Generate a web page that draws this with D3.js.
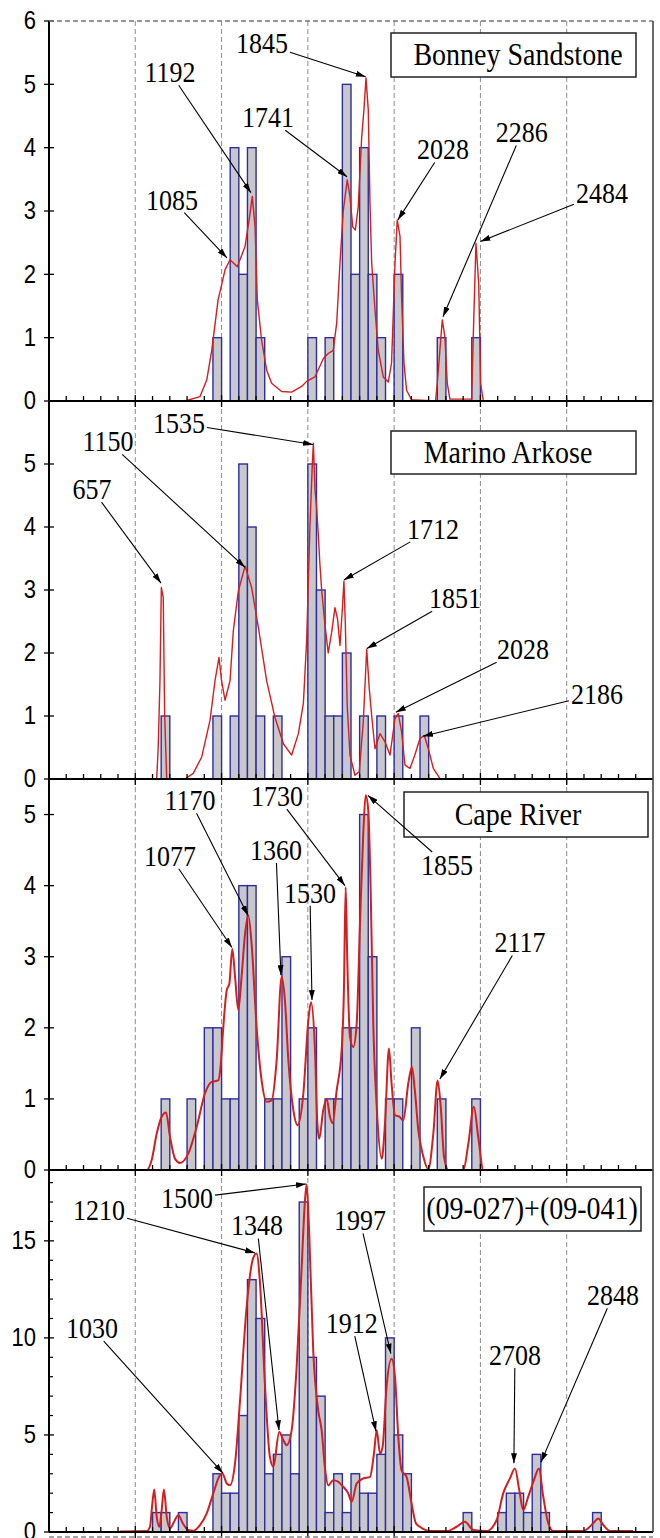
<!DOCTYPE html>
<html>
<head>
<meta charset="utf-8">
<script src="https://cdn.jsdelivr.net/npm/d3@7/dist/d3.min.js"></script>
<style>
body { margin: 0; background: #fff; }
</style>
</head>
<body>
<div class="chart"></div>
<script>
/* ---------------------------------------------------- +/
   Detrital zircon age spectra, four stacked panels
/+ ---------------------------------------------------- */

// histogram bins are 50 Ma wide, listed by their start age
var binWidth = 50;

// Bonney Sandstone
var bonneyBins   = [950, 1050, 1100, 1150, 1200, 1500, 1600, 1700, 1750, 1800, 1850, 1900, 2000, 2250, 2450];
var bonneyCounts = [1, 4, 2, 4, 1, 1, 1, 5, 2, 4, 2, 1, 2, 1, 1];
var bonneyCurveAge = [788, 875, 914, 943, 980, 1000, 1020, 1049, 1091, 1136, 1165, 1178, 1194, 1207, 1232, 1261, 1290, 1348, 1406, 1464, 1493, 1541, 1590, 1618, 1647, 1667, 1686, 1705, 1728, 1744, 1760, 1775, 1792, 1812, 1825, 1837, 1850, 1860, 1870, 1889, 1908, 1937, 1966, 1985, 2005, 2018, 2034, 2043, 2057, 2072, 2101, 2240, 2250, 2265, 2279, 2294, 2308, 2323, 2449, 2459, 2474, 2490, 2501, 2517, 2594];
var bonneyCurveP   = [0, 0.07, 0.33, 0.8, 1.6, 1.83, 2.07, 2.23, 2.12, 2.44, 2.96, 3.23, 2.75, 1.6, 0.96, 0.49, 0.28, 0.15, 0.14, 0.23, 0.31, 0.38, 0.67, 0.75, 0.8, 1.23, 2.17, 3.0, 3.49, 3.23, 2.75, 2.7, 3.07, 4.17, 4.6, 5.1, 4.6, 3.12, 2.17, 1.44, 0.8, 0.38, 0.3, 0.6, 2.17, 2.86, 2.6, 1.65, 0.6, 0.17, 0.02, 0, 0.28, 0.8, 1.28, 1.01, 0.28, 0.03, 0.03, 1.07, 2.49, 1.86, 0.28, 0, 0];
// [label, peak age, peak density, label age, label density]
var bonneyPeaks = [
    ["1845", 1835, 5.12, 1234, 5.65],
    ["1192", 1170, 3.29, 701, 5.19],
    ["1741", 1727, 3.54, 1269, 4.48],
    ["1085", 1031, 2.26, 713, 3.18],
    ["2028", 2022, 2.86, 2283, 3.97],
    ["2286", 2283, 1.33, 2740, 4.24],
    ["2484", 2500, 2.52, 3204, 3.28]
];

// Marino Arkose
var marinoBins   = [650, 950, 1050, 1100, 1150, 1200, 1300, 1500, 1550, 1600, 1650, 1700, 1800, 1900, 2000, 2150];
var marinoCounts = [1, 1, 1, 5, 4, 1, 1, 5, 3, 1, 1, 2, 1, 1, 1, 1];
var marinoCurveAge = [624, 633, 643, 651, 662, 670, 682, 788, 836, 885, 933, 962, 985, 1000, 1020, 1049, 1068, 1097, 1136, 1174, 1213, 1261, 1309, 1358, 1406, 1445, 1474, 1493, 1512, 1526, 1532, 1541, 1551, 1560, 1570, 1580, 1599, 1618, 1638, 1657, 1672, 1686, 1701, 1709, 1717, 1728, 1744, 1773, 1798, 1821, 1841, 1856, 1870, 1889, 1918, 1947, 1976, 2005, 2024, 2043, 2063, 2092, 2120, 2149, 2175, 2198, 2227, 2265, 2300];
var marinoCurveP   = [0, 0.51, 1.56, 3.04, 2.88, 1.04, 0, 0, 0.09, 0.35, 0.93, 1.56, 1.93, 1.56, 1.25, 1.56, 2.35, 2.98, 3.38, 3.04, 2.41, 1.56, 0.98, 0.56, 0.38, 0.72, 1.2, 2.2, 4.0, 5.01, 5.33, 4.6, 4.3, 3.9, 3.4, 3.0, 2.45, 2.0, 2.33, 2.72, 2.54, 2.12, 2.75, 3.14, 2.48, 1.17, 0.38, 0.06, 0.12, 0.9, 2.06, 1.43, 1.0, 0.48, 0.72, 0.59, 0.38, 0.96, 1.04, 0.75, 0.22, 0.17, 0.38, 0.64, 0.69, 0.48, 0.17, 0.01, 0];
var marinoPeaks = [
    ["1535", 1530, 5.31, 753, 5.65],
    ["1150", 1136, 3.36, 342, 5.36],
    ["657", 649, 3.11, 249, 4.6],
    ["1712", 1709, 3.16, 2225, 3.97],
    ["1851", 1842, 2.07, 2352, 2.87],
    ["2028", 2010, 1.06, 2746, 2.06],
    ["2186", 2167, 0.68, 3175, 1.35]
];

// Cape River
var capeBins   = [650, 800, 900, 950, 1000, 1050, 1100, 1150, 1250, 1300, 1350, 1450, 1500, 1600, 1650, 1700, 1750, 1800, 1850, 1950, 2000, 2100, 2250, 2450];
var capeCounts = [1, 1, 2, 2, 1, 1, 4, 4, 1, 1, 3, 1, 2, 1, 1, 2, 2, 5, 3, 1, 1, 2, 1, 1];
var capeCurveAge = [0, 566, 595, 624, 653, 678, 701, 730, 759, 807, 856, 904, 943, 981, 994, 1010, 1030, 1045, 1062, 1078, 1097, 1116, 1136, 1155, 1174, 1203, 1232, 1261, 1290, 1319, 1348, 1367, 1387, 1416, 1441, 1474, 1503, 1518, 1541, 1555, 1566, 1589, 1609, 1628, 1643, 1667, 1696, 1709, 1719, 1728, 1744, 1763, 1783, 1802, 1821, 1835, 1850, 1864, 1879, 1899, 1928, 1947, 1970, 1985, 2005, 2030, 2053, 2082, 2103, 2120, 2140, 2169, 2198, 2227, 2252, 2270, 2289, 2314, 2401, 2430, 2462, 2487, 2517, 2980];
var capeCurveP   = [0, 0, 0.14, 0.51, 0.75, 0.81, 0.47, 0.16, 0.1, 0.23, 0.61, 1.08, 1.24, 1.26, 1.45, 2.01, 2.53, 2.62, 3.11, 2.72, 2.25, 2.72, 3.32, 3.58, 3.18, 2.01, 1.26, 0.96, 0.98, 1.54, 2.72, 2.39, 1.54, 0.84, 0.63, 1.08, 2.11, 2.36, 1.7, 0.66, 0.44, 0.84, 1.0, 0.75, 0.66, 1.12, 1.69, 2.53, 3.98, 3.0, 1.87, 1.73, 2.06, 3.46, 4.73, 5.27, 5.06, 3.93, 2.06, 0.89, 0.16, 0.66, 1.71, 1.22, 0.77, 0.75, 0.7, 1.22, 1.45, 1.12, 0.56, 0.19, 0.01, 0.51, 1.26, 0.89, 0.19, 0, 0, 0.37, 0.89, 0.47, 0, 0];
var capePeaks = [
    ["1170", 1153, 3.58, 817, 5.2],
    ["1730", 1715, 4.0, 1321, 5.26],
    ["1077", 1060, 3.13, 701, 4.42],
    ["1360", 1344, 2.74, 1315, 4.5],
    ["1530", 1524, 2.39, 1512, 3.9],
    ["1855", 1848, 5.27, 2306, 4.29],
    ["2117", 2265, 1.28, 2729, 3.2]
];

// (09-027)+(09-041)
var mixBins   = [600, 650, 750, 950, 1000, 1050, 1100, 1150, 1200, 1250, 1300, 1350, 1400, 1450, 1500, 1550, 1600, 1650, 1700, 1750, 1800, 1850, 1900, 1950, 2000, 2050, 2400, 2600, 2650, 2700, 2750, 2800, 2850, 3150];
var mixCounts = [1, 1, 1, 3, 2, 2, 6, 13, 11, 3, 4, 5, 3, 17, 9, 7, 1, 3, 1, 3, 2, 2, 4, 10, 5, 3, 1, 1, 2, 2, 1, 4, 1, 1];
var mixCurveAge = [411, 566, 585, 599, 610, 624, 640, 653, 666, 682, 701, 730, 749, 775, 807, 836, 875, 914, 952, 991, 1005, 1030, 1049, 1078, 1107, 1145, 1184, 1203, 1223, 1251, 1280, 1300, 1334, 1358, 1377, 1406, 1435, 1464, 1483, 1493, 1508, 1531, 1560, 1580, 1599, 1618, 1647, 1676, 1705, 1734, 1754, 1783, 1821, 1860, 1883, 1899, 1918, 1933, 1956, 1985, 2005, 2024, 2043, 2072, 2101, 2126, 2149, 2207, 2304, 2362, 2410, 2459, 2536, 2594, 2632, 2671, 2700, 2725, 2748, 2777, 2810, 2839, 2864, 2893, 2922, 3096, 3154, 3183, 3212, 3251, 3385];
var mixCurveP   = [0.03, 0.05, 0.27, 1.47, 2.19, 0.79, 0.27, 1.13, 2.19, 0.79, 0.19, 0.62, 0.87, 0.45, 0.1, 0.07, 0.36, 0.96, 1.99, 2.93, 3.01, 2.5, 2.41, 3.53, 6.78, 11.58, 14.14, 14.35, 12.77, 7.64, 3.87, 3.36, 5.15, 4.73, 4.47, 5.24, 8.49, 13.63, 17.05, 17.91, 15.34, 9.35, 6.27, 5.24, 3.3, 2.4, 2.67, 2.59, 2.33, 1.99, 1.56, 2.5, 2.76, 2.84, 4.04, 5.24, 4.04, 4.38, 7.47, 8.92, 7.98, 4.9, 3.18, 2.84, 1.47, 0.45, 0.27, 0.05, 0.05, 0.27, 0.53, 0.1, 0.05, 0.62, 1.99, 2.76, 3.27, 2.16, 1.13, 1.82, 2.67, 3.27, 1.82, 0.45, 0.05, 0.05, 0.45, 0.7, 0.36, 0.05, 0.05];
var mixPeaks = [
    ["1500", 1489, 17.93, 800, 17.18],
    ["1210", 1194, 14.38, 290, 16.56],
    ["1348", 1333, 5.24, 1205, 15.79],
    ["1030", 1008, 3.03, 249, 10.5],
    ["1997", 1981, 9.19, 1802, 16.05],
    ["1912", 1895, 5.19, 1755, 10.76],
    ["2708", 2694, 3.54, 2700, 9.12],
    ["2848", 2851, 3.6, 3268, 12.2]
];

var gridAges = [500, 1000, 1500, 2000, 2500, 3000];

/**
 * Layout
 */
var width = 660;
var height = 1538;
var left = 49, right = 653;
var serif = "'Liberation Serif', 'Times New Roman', serif";
var sans = "'Liberation Sans', Arial, sans-serif";

var panels = [
    { title: "Bonney Sandstone", bins: bonneyBins, counts: bonneyCounts,
      curveAge: bonneyCurveAge, curveP: bonneyCurveP, peaks: bonneyPeaks,
      top: 21, bottom: 401, yMax: 6, yTicks: [0, 1, 2, 3, 4, 5, 6], smooth: false,
      box: { x: 391, y: 33, w: 245, h: 44, tx: 518 } },
    { title: "Marino Arkose", bins: marinoBins, counts: marinoCounts,
      curveAge: marinoCurveAge, curveP: marinoCurveP, peaks: marinoPeaks,
      top: 401, bottom: 779, yMax: 6, yTicks: [0, 1, 2, 3, 4, 5], smooth: false,
      box: { x: 391, y: 431, w: 245, h: 43, tx: 508 } },
    { title: "Cape River", bins: capeBins, counts: capeCounts,
      curveAge: capeCurveAge, curveP: capeCurveP, peaks: capePeaks,
      top: 779, bottom: 1170, yMax: 5.5, yTicks: [0, 1, 2, 3, 4, 5], smooth: true,
      box: { x: 404, y: 792, w: 244, h: 45, tx: 518 } },
    { title: "(09-027)+(09-041)", bins: mixBins, counts: mixCounts,
      curveAge: mixCurveAge, curveP: mixCurveP, peaks: mixPeaks,
      top: 1170, bottom: 1532, yMax: 18.65, yTicks: [0, 5, 10, 15], minorY: 1, smooth: true,
      box: { x: 424, y: 1187, w: 217, h: 44, tx: 532 } }
];

var svg = d3.select(".chart").append("svg")
    .attr("width", width)
    .attr("height", height);

// arrow head for the peak labels
svg.append("defs").append("marker")
    .attr("id", "arrow")
    .attr("markerUnits", "userSpaceOnUse")
    .attr("markerWidth", 10)
    .attr("markerHeight", 6)
    .attr("refX", 10)
    .attr("refY", 3)
    .attr("orient", "auto")
  .append("path")
    .attr("d", "M0,0 L10,3 L0,6 Z")
    .attr("fill", "#000");

var x = d3.scaleLinear().domain([0, 3500]).range([left, right]);

panels.forEach(function (p) {
    var y = d3.scaleLinear().domain([0, p.yMax]).range([p.bottom, p.top]);
    p.y = y;
    var g = svg.append("g").attr("class", "panel");

    // dashed age grid
    g.selectAll(".grid").data(gridAges).enter().append("line")
        .attr("x1", function (d) { return x(d); })
        .attr("x2", function (d) { return x(d); })
        .attr("y1", p.top)
        .attr("y2", p.bottom)
        .attr("stroke", "#8c8c8c")
        .attr("stroke-width", 1)
        .attr("stroke-dasharray", "5,3");

    // histogram
    g.selectAll(".bar").data(d3.zip(p.bins, p.counts)).enter().append("rect")
        .attr("x", function (d) { return x(d[0]); })
        .attr("width", function (d) { return x(d[0] + binWidth) - x(d[0]); })
        .attr("y", function (d) { return y(d[1]); })
        .attr("height", function (d) { return y(0) - y(d[1]); })
        .attr("fill", "#c8c8cc")
        .attr("stroke", "#2d2d9e")
        .attr("stroke-width", 1.4);

    // probability density curve
    var line = d3.line()
        .x(function (d) { return x(d[0]); })
        .y(function (d) { return y(d[1]); })
        .curve(p.smooth ? d3.curveMonotoneX : d3.curveLinear);
    g.append("path")
        .datum(d3.zip(p.curveAge, p.curveP))
        .attr("d", line)
        .attr("fill", "none")
        .attr("stroke", "#d21f1f")
        .attr("stroke-width", p.smooth ? 2 : 1.4)
        .attr("stroke-linejoin", "round");

    // legend box
    g.append("rect")
        .attr("x", p.box.x).attr("y", p.box.y)
        .attr("width", p.box.w).attr("height", p.box.h)
        .attr("fill", "#fff")
        .attr("stroke", "#222")
        .attr("stroke-width", 1.5);
    g.append("text")
        .attr("transform", "translate(" + p.box.tx + "," + (p.box.y + p.box.h / 2) + ") scale(1,1.1)")
        .attr("text-anchor", "middle")
        .attr("dy", "0.34em")
        .attr("font-family", serif)
        .attr("font-size", 28)
        .attr("fill", "#000")
        .text(p.title);

    // peak labels with arrows
    p.peaks.forEach(function (a) {
        var tx = x(a[3]), ty = y(a[4]);
        var px = x(a[1]), py = y(a[2]);
        var lab = g.append("text")
            .attr("transform", "translate(" + tx + "," + ty + ") scale(1,1.12)")
            .attr("text-anchor", "middle")
            .attr("dy", "0.34em")
            .attr("font-family", serif)
            .attr("font-size", 26)
            .attr("fill", "#000")
            .text(a[0]);
        var hw = lab.node().getComputedTextLength() / 2 + 2;
        var hh = 13;
        var dx = px - tx, dy = py - ty;
        var t = Math.min(hw / Math.max(Math.abs(dx), 1e-6), hh / Math.max(Math.abs(dy), 1e-6));
        g.append("line")
            .attr("x1", tx + dx * t).attr("y1", ty + dy * t)
            .attr("x2", px).attr("y2", py)
            .attr("stroke", "#000")
            .attr("stroke-width", 1.1)
            .attr("marker-end", "url(#arrow)");
    });
});

/**
 * Axes go on top of everything
 */
var minorAges = d3.range(100, 3500, 100).filter(function (d) { return d % 500 !== 0; });

panels.forEach(function (p) {
    var y = p.y;
    var a = svg.append("g").attr("class", "axes");

    // bottom axis with inward minor ticks
    a.append("line")
        .attr("x1", left).attr("x2", right)
        .attr("y1", p.bottom).attr("y2", p.bottom)
        .attr("stroke", "#000").attr("stroke-width", 2);
    a.selectAll(".xminor").data(minorAges).enter().append("line")
        .attr("x1", function (d) { return x(d); })
        .attr("x2", function (d) { return x(d); })
        .attr("y1", p.bottom - 5).attr("y2", p.bottom)
        .attr("stroke", "#000").attr("stroke-width", 1.3);
    a.selectAll(".xmajor").data(gridAges).enter().append("line")
        .attr("x1", function (d) { return x(d); })
        .attr("x2", function (d) { return x(d); })
        .attr("y1", p.bottom - 6).attr("y2", p.bottom + 6)
        .attr("stroke", "#000").attr("stroke-width", 1.3);

    // left axis
    a.append("line")
        .attr("x1", left).attr("x2", left)
        .attr("y1", p.top).attr("y2", p.bottom)
        .attr("stroke", "#000").attr("stroke-width", 2);
    var yAxis = d3.axisLeft(y)
        .tickValues(p.yTicks)
        .tickFormat(d3.format("d"))
        .tickSize(0)
        .tickPadding(13);
    var ya = a.append("g").attr("transform", "translate(" + left + ",0)").call(yAxis);
    ya.select(".domain").remove();
    ya.selectAll("text")
        .attr("font-family", sans)
        .attr("font-size", 22)
        .attr("fill", "#000")
        .attr("transform", "scale(1,1.13)");
    a.selectAll(".ymajor").data(p.yTicks).enter().append("line")
        .attr("x1", left - 5).attr("x2", left + 5)
        .attr("y1", function (d) { return y(d); })
        .attr("y2", function (d) { return y(d); })
        .attr("stroke", "#000").attr("stroke-width", 1.3);
    if (p.minorY) {
        var minor = d3.range(1, p.yMax, p.minorY).filter(function (d) { return p.yTicks.indexOf(d) < 0; });
        a.selectAll(".yminor").data(minor).enter().append("line")
            .attr("x1", left).attr("x2", left + 4)
            .attr("y1", function (d) { return y(d); })
            .attr("y2", function (d) { return y(d); })
            .attr("stroke", "#000").attr("stroke-width", 1.2);
    }
});

// outer frame: dashed top, solid right edge
svg.append("line")
    .attr("x1", left).attr("x2", right)
    .attr("y1", panels[0].top).attr("y2", panels[0].top)
    .attr("stroke", "#777").attr("stroke-width", 1.3)
    .attr("stroke-dasharray", "5,3");
svg.append("line")
    .attr("x1", right).attr("x2", right)
    .attr("y1", panels[0].top).attr("y2", panels[3].bottom)
    .attr("stroke", "#444").attr("stroke-width", 1.6);
svg.append("line")
    .attr("x1", left).attr("x2", right)
    .attr("y1", panels[3].bottom + 5).attr("y2", panels[3].bottom + 5)
    .attr("stroke", "#888").attr("stroke-width", 1.3)
    .attr("stroke-dasharray", "5,3");
</script>
</body>
</html>
